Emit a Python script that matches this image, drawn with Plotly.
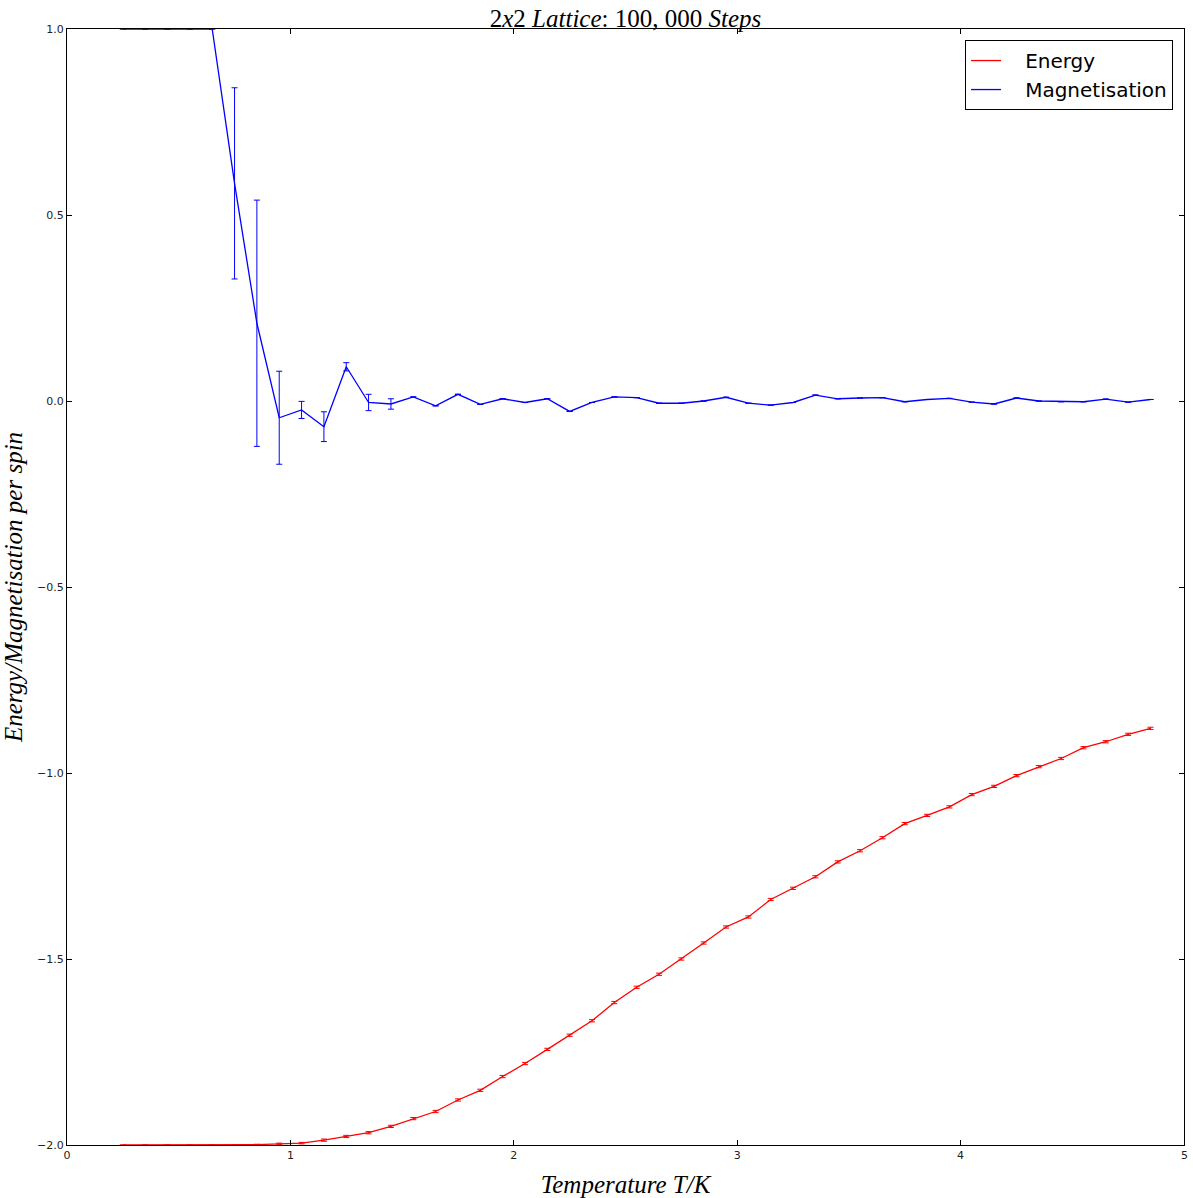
import plotly.graph_objects as go

temperature = [0.25, 0.35, 0.45, 0.55, 0.65, 0.75, 0.85, 0.95, 1.05, 1.15,
               1.25, 1.35, 1.45, 1.55, 1.65, 1.75, 1.85, 1.95, 2.05, 2.15,
               2.25, 2.35, 2.45, 2.55, 2.65, 2.75, 2.85, 2.95, 3.05, 3.15,
               3.25, 3.35, 3.45, 3.55, 3.65, 3.75, 3.85, 3.95, 4.05, 4.15,
               4.25, 4.35, 4.45, 4.55, 4.65, 4.75, 4.85]

energy = [-2.0, -2.0, -2.0, -2.0, -2.0, -2.0, -1.999, -1.997, -1.995, -1.987,
          -1.977, -1.967, -1.950, -1.929, -1.910, -1.879, -1.853, -1.816, -1.781, -1.743,
          -1.705, -1.666, -1.617, -1.576, -1.541, -1.500, -1.457, -1.414, -1.387, -1.340,
          -1.310, -1.279, -1.239, -1.209, -1.174, -1.136, -1.114, -1.091, -1.058, -1.036,
          -1.007, -0.983, -0.961, -0.932, -0.916, -0.896, -0.880]

energy_err = [None, None, None, None, None, None, 0.001, 0.002, 0.002, 0.003,
              0.003, 0.003, 0.003, 0.003, 0.003, 0.003, 0.003, 0.003, 0.003, 0.003,
              0.003, 0.003, 0.003, 0.003, 0.003, 0.003, 0.003, 0.003, 0.003, 0.003,
              0.003, 0.003, 0.003, 0.003, 0.003, 0.003, 0.003, 0.003, 0.003, 0.003,
              0.003, 0.003, 0.003, 0.003, 0.003, 0.003, 0.003]

magnetisation = [1.0, 1.0, 1.0, 1.0, 1.0, 0.585, 0.209, -0.045, -0.024, -0.069,
                 0.092, -0.004, -0.008, 0.011, -0.013, 0.018, -0.009, 0.006, -0.004, 0.006,
                 -0.028, -0.004, 0.011, 0.009, -0.006, -0.006, 0.0, 0.010, -0.006, -0.011,
                 -0.004, 0.016, 0.006, 0.008, 0.009, -0.002, 0.004, 0.007, -0.003, -0.008,
                 0.008, 0.0, -0.002, -0.002, 0.005, -0.003, 0.004]

magnetisation_err = [None, None, None, None, None, 0.257, 0.331, 0.125, 0.023, 0.040,
                     0.011, 0.022, 0.014, None, None, None, None, None, None, None,
                     None, None, None, None, None, None, None, None, None, None,
                     None, None, None, None, None, None, None, None, None, None,
                     None, None, None, None, None, None, None]

x_ticks = [0, 1, 2, 3, 4, 5]
x_tick_text = ["0", "1", "2", "3", "4", "5"]
y_ticks = [-2.0, -1.5, -1.0, -0.5, 0.0, 0.5, 1.0]
y_tick_text = ["\u22122.0", "\u22121.5", "\u22121.0", "\u22120.5", "0.0", "0.5", "1.0"]

fig = go.Figure()
fig.add_trace(go.Scatter(
    x=temperature, y=energy, mode="lines", name="\u00a0\u00a0\u00a0Energy",
    line=dict(color="#ff0000", width=1.3),
    error_y=dict(type="data", array=energy_err, color="#ff0000", thickness=1, width=3),
))
fig.add_trace(go.Scatter(
    x=temperature, y=magnetisation, mode="lines", name="\u00a0\u00a0\u00a0Magnetisation",
    line=dict(color="#0000ff", width=1.3),
    error_y=dict(type="data", array=magnetisation_err, color="#0000ff", thickness=1, width=3),
))

serif = "Liberation Serif, DejaVu Serif, serif"
tick_font = dict(family="DejaVu Sans", size=11, color="#222222")
axis_common = dict(
    showline=True, linecolor="black", linewidth=1, mirror="ticks",
    ticks="inside", ticklen=5, tickcolor="black", tickwidth=1,
    showgrid=False, zeroline=False, automargin=False,
    tickfont=tick_font,
)

# the label of the last x tick (at the right edge of the axis) is drawn as an annotation,
# because plotly drops the tick label that sits exactly on the range end here
fig.add_annotation(x=x_ticks[-1], xref="x", y=0, yref="paper", yanchor="top", yshift=-2,
                   text=x_tick_text[-1], showarrow=False, font=tick_font)

fig.update_layout(
    width=1193, height=1198,
    paper_bgcolor="white", plot_bgcolor="white",
    margin=dict(l=67, r=9, t=29, b=53),
    title=dict(
        text="2<i>x</i>2 <i>Lattice</i>: 100, 000 <i>Steps</i>",
        x=(67 + 1184) / 2 / 1193, xanchor="center", y=1 - 18 / 1198, yanchor="middle",
        font=dict(family=serif, size=25, color="black"),
    ),
    xaxis=dict(range=[0, 5], tickmode="array", tickvals=x_ticks[:-1] + [x_ticks[-1]],
               ticktext=x_tick_text[:-1] + [""],
               title=dict(text="<i>Temperature T/K</i>", font=dict(family=serif, size=25, color="black")),
               **axis_common),
    yaxis=dict(range=[-2, 1], tickvals=y_ticks, ticktext=y_tick_text,
               title=dict(text="<i>Energy/Magnetisation per spin</i>", font=dict(family=serif, size=25, color="black")),
               **axis_common),
    legend=dict(
        x=0.9902, y=0.9901, xanchor="right", yanchor="top",
        bordercolor="black", borderwidth=1, bgcolor="white",
        font=dict(family="DejaVu Sans", size=20, color="black"),
        itemwidth=30,
    ),
    showlegend=True,
)

fig.write_html("out.html", config={"displayModeBar": False},
               post_script="document.body.style.margin='0px';")
